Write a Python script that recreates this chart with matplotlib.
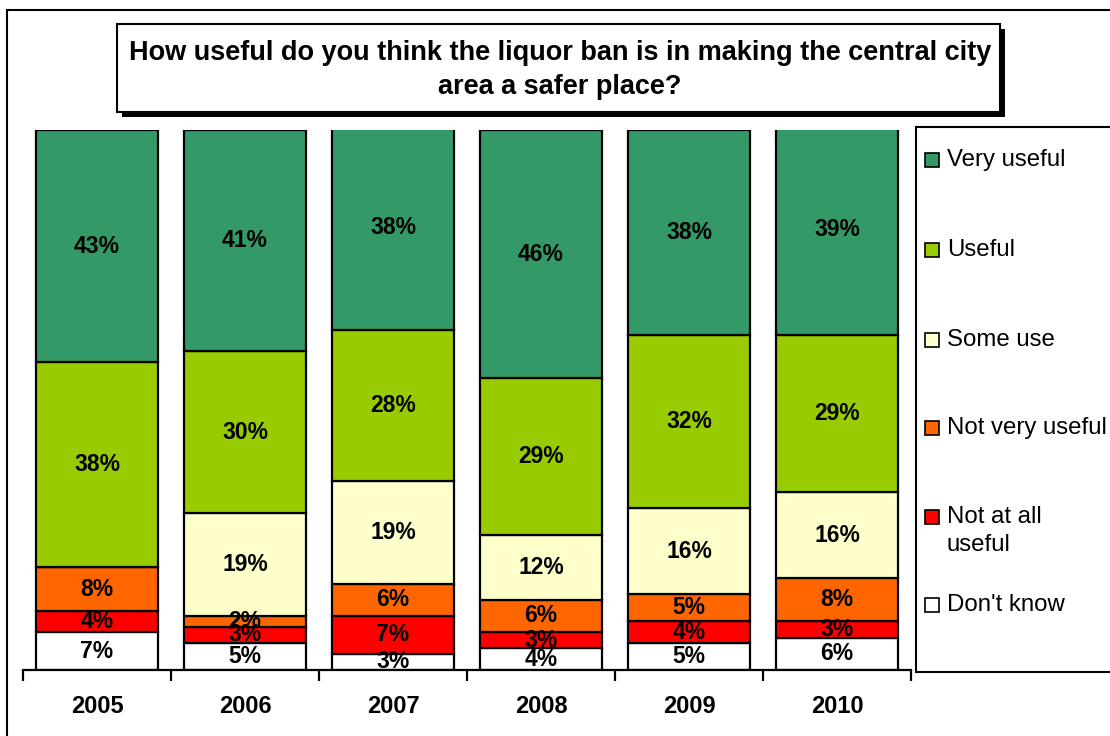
import numpy as np
import matplotlib
matplotlib.use("Agg")
from matplotlib import pyplot as plt
from matplotlib.patches import Rectangle

plt.rcParams['font.family'] = ['Liberation Sans', 'DejaVu Sans']

# Data (percent), bottom segment first
years = ["2005", "2006", "2007", "2008", "2009", "2010"]
dont_know = [7, 5, 3, 4, 5, 6]
not_at_all = [4, 3, 7, 3, 4, 3]
not_very = [8, 2, 6, 6, 5, 8]
some_use = [0, 19, 19, 12, 16, 16]
useful = [38, 30, 28, 29, 32, 29]
very_useful = [43, 41, 38, 46, 38, 39]

series = [dont_know, not_at_all, not_very, some_use, useful, very_useful]
names = ["Don't know", "Not at all\nuseful", "Not very useful", "Some use", "Useful", "Very useful"]
colors = ["#FFFFFF", "#FF0000", "#FF6600", "#FFFFCC", "#99CC00", "#339966"]

title = "How useful do you think the liquor ban is in making the central city\narea a safer place?"

W, H = 1110, 736
fig = plt.figure(figsize=(W / 100, H / 100), dpi=100)

# outer chart border (runs off right and bottom)
fig.patches.append(Rectangle((7 / W, -0.05), 1.2, (H - 10) / H + 0.05, transform=fig.transFigure,
                             fill=False, edgecolor="black", linewidth=1.5))

ax = fig.add_axes([23 / W, 66 / H, 888 / W, 540 / H])
x = np.arange(len(years))
bottom = np.zeros(len(years))
for vals, c in zip(series, colors):
    vals = np.array(vals, dtype=float)
    ax.bar(x, vals, 0.82, bottom=bottom, color=c, edgecolor="black", linewidth=1.6, zorder=2)
    for xi, v, b in zip(x, vals, bottom):
        if v > 0:
            ax.text(xi, b + v / 2, f"{int(v)}%", ha="center", va="center",
                    fontsize=16.5, fontweight="bold", zorder=3)
    bottom += vals

ax.set_xlim(-0.5, len(years) - 0.5)
ax.set_ylim(0, 100)
for s in ["left", "right", "top"]:
    ax.spines[s].set_visible(False)
ax.spines["bottom"].set_linewidth(1.6)
ax.set_yticks([])
ax.set_xticks(np.arange(-0.5, len(years)), labels=[])
ax.tick_params(axis="x", which="major", length=8, width=1.6)
ax.set_xticks(x, labels=years, minor=True)
ax.tick_params(axis="x", which="minor", length=0, pad=18, labelsize=17)
for t in ax.get_xticklabels(minor=True):
    t.set_fontweight("bold")
ax.patch.set_alpha(0)

# title box with shadow
fig.patches.append(Rectangle((122 / W, (H - 117) / H), 883 / W, 88 / H, transform=fig.transFigure,
                             facecolor="black", edgecolor="black", linewidth=0))
fig.patches.append(Rectangle((117 / W, (H - 112) / H), 883 / W, 88 / H, transform=fig.transFigure,
                             facecolor="white", edgecolor="black", linewidth=1.5))
fig.text(560 / W, (H - 70) / H, title, ha="center", va="center", fontsize=19.5,
         fontweight="bold", linespacing=1.45)

# legend box
fig.patches.append(Rectangle((916 / W, (H - 672) / H), 0.3, (672 - 127) / H, transform=fig.transFigure,
                             facecolor="white", edgecolor="black", linewidth=1.5))
leg_y = [605, 531, 428, 340, 250, 160]
for nm, c, yy in zip(names, colors, leg_y):
    first_line = yy - 14 if "\n" in nm else yy
    fig.patches.append(Rectangle((925 / W, (H - first_line - 7) / H), 14 / W, 14 / H,
                                 transform=fig.transFigure, facecolor=c, edgecolor="black", linewidth=1.2))
    fig.text(947 / W, (H - yy) / H, nm, ha="left", va="center", fontsize=17.3, linespacing=1.3)

fig.savefig("out.png", dpi=100)
